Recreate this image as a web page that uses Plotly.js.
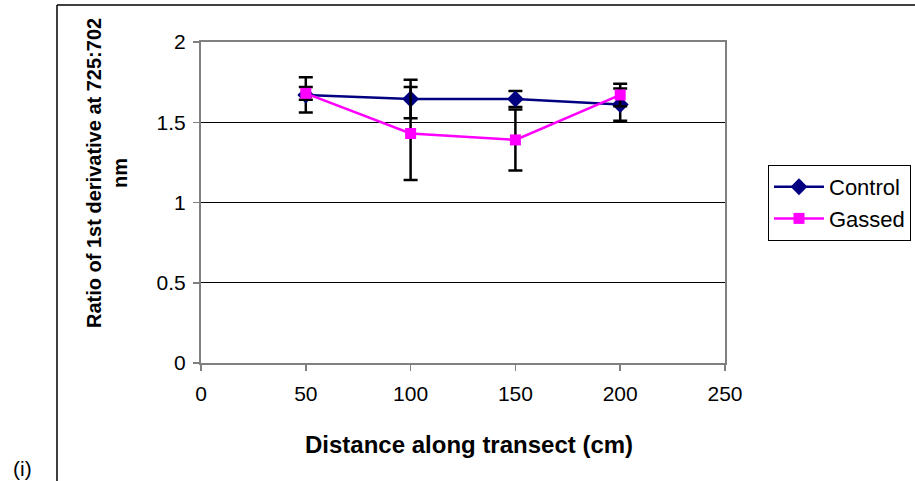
<!DOCTYPE html>
<html>
<head>
<meta charset="utf-8">
<script src="https://cdn.plot.ly/plotly-3.0.1.min.js"></script>
<style>html,body{margin:0;padding:0;background:#fff;}#chart{width:915px;height:481px;}</style>
</head>
<body>
<div id="chart"></div>
<script>
const distance = [50, 100, 150, 200];
const controlValues = [1.67, 1.645, 1.645, 1.61];
const controlErrors = [0.11, 0.12, 0.05, 0.10];
const gassedValues = [1.68, 1.43, 1.39, 1.67];
const gassedErrors = [0.04, 0.29, 0.19, 0.07];
const xTicks = [0, 50, 100, 150, 200, 250];
const yTicks = [0, 0.5, 1, 1.5, 2];
const seriesNames = ['Control', 'Gassed'];

const font = 'Arial, "Liberation Sans", sans-serif';

const traces = [
  {
    x: distance, y: controlValues, name: seriesNames[0],
    type: 'scatter', mode: 'lines+markers',
    line: {color: '#000080', width: 2.5},
    marker: {symbol: 'diamond', size: 13, color: '#000080'},
    error_y: {type: 'data', array: controlErrors, visible: true, color: '#000000', thickness: 2.5, width: 7}
  },
  {
    x: distance, y: gassedValues, name: seriesNames[1],
    type: 'scatter', mode: 'lines+markers',
    line: {color: '#FF00FF', width: 2.5},
    marker: {symbol: 'square', size: 11, color: '#FF00FF'},
    error_y: {type: 'data', array: gassedErrors, visible: true, color: '#000000', thickness: 2.5, width: 7}
  }
];

// plot area pixel box: x 201..725, y 42..363
const L = 201, R = 725, T = 42, B = 363;
const px = v => (v - L) / (R - L);
const py = v => (B - v) / (B - T);

const layout = {
  width: 915, height: 481,
  margin: {l: L, r: 915 - R, t: T, b: 481 - B, pad: 0, autoexpand: false},
  paper_bgcolor: '#ffffff', plot_bgcolor: '#ffffff',
  font: {family: font, size: 21, color: '#000'},
  showlegend: true,
  legend: {
    x: px(768), y: py(165), xanchor: 'left', yanchor: 'top',
    bgcolor: '#ffffff', bordercolor: '#000000', borderwidth: 1,
    font: {family: font, size: 22, color: '#000'},
    itemwidth: 50,
    tracegroupgap: 0
  },
  xaxis: {
    range: [0, 250], tickvals: xTicks, ticktext: xTicks.map(String),
    showgrid: false, zeroline: false,
    showline: true, mirror: true, linecolor: '#808080', linewidth: 2,
    ticks: 'outside', ticklen: 6, tickcolor: '#808080', tickwidth: 1.5,
    ticklabelstandoff: 5,
    tickfont: {family: font, size: 21, color: '#000'}
  },
  yaxis: {
    range: [0, 2], tickvals: yTicks, ticktext: yTicks.map(String),
    showgrid: true, gridcolor: '#000000', gridwidth: 1, zeroline: false,
    showline: true, mirror: true, linecolor: '#808080', linewidth: 2,
    ticks: 'outside', ticklen: 6, tickcolor: '#808080', tickwidth: 1.5,
    ticklabelstandoff: 3,
    tickfont: {family: font, size: 21, color: '#000'}
  },
  annotations: [
    {
      text: '<b>Ratio of 1st derivative at 725:702</b><br><b>nm</b>',
      xref: 'paper', yref: 'paper', x: px(107), y: py(173),
      xanchor: 'center', yanchor: 'middle', textangle: -90, showarrow: false,
      font: {family: font, size: 20, color: '#000'}
    },
    {
      text: '<b>Distance along transect (cm)</b>',
      xref: 'paper', yref: 'paper', x: px(469), y: py(444),
      xanchor: 'center', yanchor: 'middle', showarrow: false,
      font: {family: font, size: 24, color: '#000'}
    },
    {
      text: '(i)',
      xref: 'paper', yref: 'paper', x: px(22), y: py(468),
      xanchor: 'center', yanchor: 'middle', showarrow: false,
      font: {family: font, size: 21, color: '#000'}
    }
  ],
  shapes: [
    {type: 'line', xref: 'paper', yref: 'paper', x0: px(57), x1: px(57), y0: py(5), y1: py(495), line: {color: '#000', width: 1.5}},
    {type: 'line', xref: 'paper', yref: 'paper', x0: px(57), x1: px(940), y0: py(5), y1: py(5), line: {color: '#000', width: 1.5}}
  ]
};

Plotly.newPlot('chart', traces, layout, {displayModeBar: false, staticPlot: true});
</script>
</body>
</html>
